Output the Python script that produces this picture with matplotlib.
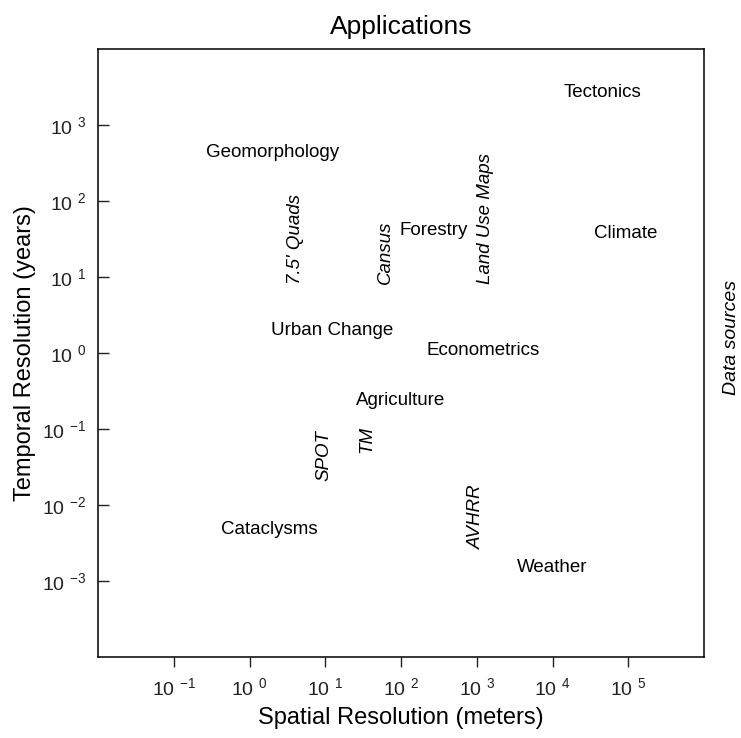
import numpy as np
import matplotlib
matplotlib.use('Agg')
import matplotlib.pyplot as plt

plt.rcParams['font.family'] = ['Liberation Sans', 'DejaVu Sans']
plt.rcParams['mathtext.fontset'] = 'custom'
plt.rcParams['mathtext.rm'] = 'Liberation Sans'
plt.rcParams['mathtext.it'] = 'Liberation Sans:italic'

# applications (spatial m, temporal years)
app_names = ['Tectonics', 'Geomorphology', 'Climate', 'Forestry', 'Urban Change',
             'Econometrics', 'Agriculture', 'Cataclysms', 'Weather']
app_x = [45700, 2.0, 93000, 270, 12.3, 1230, 98, 1.8, 9800]
app_y = [2700, 440, 37, 41, 2.0, 1.07, 0.24, 0.0048, 0.0015]

# data sources (drawn vertical, italic); y is where the text starts
src_names = ["7.5' Quads", 'Cansus', 'Land Use Maps', 'SPOT', 'TM', 'AVHRR']
src_x = [4.1, 63, 1290, 9.5, 35, 1000]
src_y = [8.2, 8.2, 8.1, 0.021, 0.048, 0.0026]

x_exps = [-1, 0, 1, 2, 3, 4, 5]
y_exps = [-3, -2, -1, 0, 1, 2, 3]

fig = plt.figure(figsize=(7.41, 7.38), dpi=100)
ax = fig.add_axes([98 / 741, 1 - 657 / 738, 606 / 741, 608 / 738])
ax.set_xscale('log')
ax.set_yscale('log')
ax.set_xlim(1e-2, 1e6)
ax.set_ylim(1e-4, 1e4)

for name, x, y in zip(app_names, app_x, app_y):
    ax.text(x, y, name, fontsize=13.5, ha='center', va='center')
for name, x, y in zip(src_names, src_x, src_y):
    ax.text(x, y, name, fontsize=13.5, style='italic', rotation=90,
            ha='center', va='bottom')

ax.set_xticks([10.0 ** e for e in x_exps])
ax.set_xticklabels([r'$\mathregular{10\ ^{%d}}$' % e for e in x_exps])
ax.set_yticks([10.0 ** e for e in y_exps])
ax.set_yticklabels([r'$\mathregular{10\ ^{%d}}$' % e for e in y_exps])
ax.minorticks_off()
ax.tick_params(axis='x', direction='out', length=7.5, width=1.0, pad=7,
               labelsize=14, colors='#222222')
ax.tick_params(axis='y', direction='in', length=8, width=1.0, pad=8.5,
               labelsize=14, colors='#222222')
for s in ax.spines.values():
    s.set_linewidth(1.1)

ax.set_title('Applications', fontsize=19, pad=11)
ax.set_xlabel('Spatial Resolution (meters)', fontsize=17)
ax.xaxis.set_label_coords(0.5, -0.1003)
ax.xaxis.label.set_va('center')
ax.set_ylabel('Temporal Resolution (years)', fontsize=17)
ax.yaxis.set_label_coords(-0.1205, 0.5)
ax.yaxis.label.set_va('center')
ax.text(1.0446, 0.525, 'Data sources', transform=ax.transAxes, fontsize=14,
        style='italic', rotation=90, ha='center', va='center')

plt.savefig('out.png', dpi=100)
plt.close()
